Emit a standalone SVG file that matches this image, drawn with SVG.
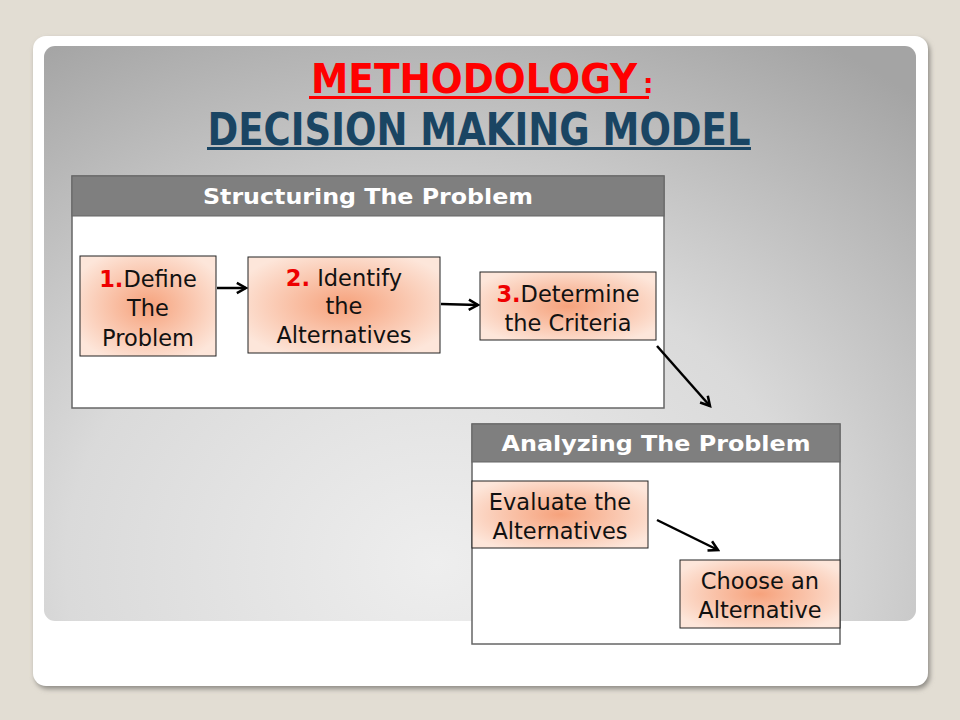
<svg xmlns="http://www.w3.org/2000/svg" width="960" height="720" viewBox="0 0 960 720">
<style>
.title{font-family:"DejaVu Sans",sans-serif;font-weight:bold}
.hdr{font-family:"DejaVu Sans",Verdana,sans-serif;font-weight:bold;font-size:21px;fill:#ffffff;text-anchor:middle}
.nt{font-family:"DejaVu Sans",Verdana,sans-serif;font-size:22.5px;fill:#111111;text-anchor:middle}
.num{fill:#ee0000;font-weight:bold}
.node{fill:url(#nodeGrad);stroke:#222222;stroke-width:1}
.frame{fill:#ffffff;stroke:#666666;stroke-width:1.5}
.band{fill:#7f7f7f;stroke:#666666;stroke-width:1}
.conn{stroke:#000000;stroke-width:2.5;fill:none;marker-end:url(#arr)}
</style>
<defs>
<radialGradient id="nodeGrad" cx="0.5" cy="0.5" r="0.6">
<stop offset="0" stop-color="#f6a27c"/>
<stop offset="1" stop-color="#fde6da"/>
</radialGradient>
<radialGradient id="panelGrad" cx="0.45" cy="0.9" r="0.85" gradientTransform="translate(0.45 0.9) scale(1 1.25) translate(-0.45 -0.9)">
<stop offset="0" stop-color="#eeeeee"/>
<stop offset="0.5" stop-color="#dadada"/>
<stop offset="1" stop-color="#a4a4a4"/>
</radialGradient>
<filter id="shadow" x="-5%" y="-5%" width="110%" height="115%">
<feGaussianBlur stdDeviation="2.5"/>
</filter>
<marker id="arr" viewBox="0 0 12 12" refX="10" refY="6" markerWidth="5.5" markerHeight="5.5" markerUnits="strokeWidth" orient="auto">
<path d="M2,1.5 L10,6 L2,10.5" fill="none" stroke="#000000" stroke-width="2.2"/>
</marker>
</defs>
<rect x="0" y="0" width="960" height="720" fill="#e2ddd3"/>
<g id="card">
<rect x="35" y="39" width="895" height="650" rx="13" fill="#8f8c86" filter="url(#shadow)"/>
<rect x="33" y="36" width="895" height="650" rx="13" fill="#ffffff"/>
<rect x="44" y="46" width="872" height="575" rx="11" fill="url(#panelGrad)"/>
</g>
<g id="title">
<text class="title" transform="translate(311 93) scale(1 1.08)" x="0" y="0" font-size="37.5" fill="#ff0000">METHODOLOGY</text>
<text class="title" x="643" y="93" font-size="26" fill="#ff0000">:</text>
<rect x="309" y="96" width="340" height="3" fill="#ff0000"/>
<text class="title" x="479" y="145" font-size="44" fill="#1a4563" text-anchor="middle" textLength="543" lengthAdjust="spacingAndGlyphs">DECISION MAKING MODEL</text>
<rect x="207" y="147" width="544" height="3" fill="#1a4563"/>
</g>
<g id="structuring">
<rect class="frame" x="72" y="176" width="592" height="232"/>
<rect class="band" x="72" y="176" width="592" height="40"/>
<text class="hdr" x="368" y="204" textLength="330" lengthAdjust="spacingAndGlyphs">Structuring The Problem</text>
</g>
<g id="analyzing">
<rect class="frame" x="472" y="424" width="368" height="220"/>
<rect class="band" x="472" y="424" width="368" height="38"/>
<text class="hdr" x="656" y="451" textLength="309" lengthAdjust="spacingAndGlyphs">Analyzing The Problem</text>
</g>
<g id="n1">
<rect class="node" x="80" y="256" width="136" height="100"/>
<text class="nt" x="148" y="287"><tspan class="num">1.</tspan>Define</text>
<text class="nt" x="148" y="316">The</text>
<text class="nt" x="148" y="346">Problem</text>
</g>
<g id="n2">
<rect class="node" x="248" y="257" width="192" height="96"/>
<text class="nt" x="344" y="286"><tspan class="num">2.</tspan> Identify</text>
<text class="nt" x="344" y="314">the</text>
<text class="nt" x="344" y="343">Alternatives</text>
</g>
<g id="n3">
<rect class="node" x="480" y="272" width="176" height="68"/>
<text class="nt" x="568" y="302"><tspan class="num">3.</tspan>Determine</text>
<text class="nt" x="568" y="331">the Criteria</text>
</g>
<g id="n4">
<rect class="node" x="472" y="481" width="176" height="67"/>
<text class="nt" x="560" y="510">Evaluate the</text>
<text class="nt" x="560" y="539">Alternatives</text>
</g>
<g id="n5">
<rect class="node" x="680" y="560" width="160" height="68"/>
<text class="nt" x="760" y="589">Choose an</text>
<text class="nt" x="760" y="618">Alternative</text>
</g>
<g id="connectors">
<line class="conn" x1="217" y1="288" x2="246" y2="288"/>
<line class="conn" x1="441" y1="304" x2="478" y2="305"/>
<line class="conn" x1="657" y1="346" x2="710" y2="406"/>
<line class="conn" x1="657" y1="520" x2="718" y2="550"/>
</g>
</svg>
